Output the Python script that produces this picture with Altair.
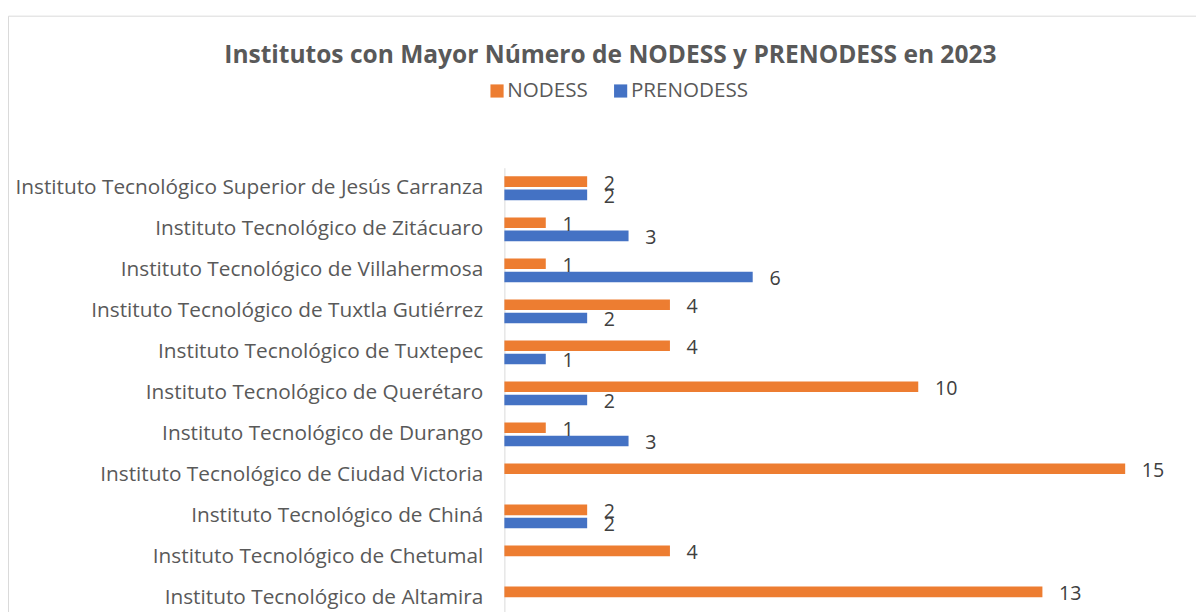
import altair as alt
import pandas as pd

categories = [
    "Instituto Tecnológico Superior de Jesús Carranza",
    "Instituto Tecnológico de Zitácuaro",
    "Instituto Tecnológico de Villahermosa",
    "Instituto Tecnológico de Tuxtla Gutiérrez",
    "Instituto Tecnológico de Tuxtepec",
    "Instituto Tecnológico de Querétaro",
    "Instituto Tecnológico de Durango",
    "Instituto Tecnológico de Ciudad Victoria",
    "Instituto Tecnológico de Chiná",
    "Instituto Tecnológico de Chetumal",
    "Instituto Tecnológico de Altamira",
]
nodess = [2, 1, 1, 4, 4, 10, 1, 15, 2, 4, 13]
prenodess = [2, 3, 6, 2, 1, 2, 3, 0, 2, 0, 0]
series = ["NODESS", "PRENODESS"]
colors = ["#ED7D31", "#4472C4"]

rows = []
for c, a, b in zip(categories, nodess, prenodess):
    rows.append({"inst": c, "serie": "NODESS", "valor": a})
    rows.append({"inst": c, "serie": "PRENODESS", "valor": b})
df = pd.DataFrame(rows)

FONT = "Open Sans"
PLOT_W = 675
PLOT_H = 447
BAND_RANGE = 460

y_enc = alt.Y("inst:N", sort=categories, title=None,
              scale=alt.Scale(range=[0, BAND_RANGE], paddingInner=0.42, paddingOuter=0.21),
              axis=alt.Axis(labelFontSize=21.2, labelColor="#595959", labelFont=FONT,
                            ticks=False, labelPadding=22, domainColor="#D9D9D9",
                            labelLimit=600))
x_enc = alt.X("valor:Q", title=None, scale=alt.Scale(domain=[0, 16], nice=False),
              axis=None)
yoff = alt.YOffset("serie:N", sort=series, scale=alt.Scale(paddingInner=0.2, paddingOuter=0))

base = alt.Chart(df).transform_filter("datum.valor > 0")

bars = base.mark_bar().encode(
    y=y_enc, x=x_enc, yOffset=yoff,
    color=alt.Color("serie:N", sort=series, title=None,
                    scale=alt.Scale(domain=series, range=colors),
                    legend=alt.Legend(orient="none", legendX=-18, legendY=-89,
                                      direction="horizontal", symbolType="square",
                                      symbolSize=180, labelFontSize=21, labelFont=FONT,
                                      labelColor="#595959", columnPadding=22,
                                      symbolStrokeWidth=0, labelOffset=0)),
)

labels = base.mark_text(align="left", baseline="middle", dx=17, dy=2,
                        fontSize=20, font=FONT, color="#404040").encode(
    y=y_enc, x=x_enc, yOffset=yoff, text="valor:Q",
)

frame = alt.Chart(pd.DataFrame({"k": [0]})).mark_rect(
    fill=None, stroke="#D9D9D9", strokeWidth=1
).encode(
    x=alt.value(-505.5), x2=alt.value(PLOT_W + 600),
    y=alt.value(-154.5), y2=alt.value(PLOT_H + 100),
)

chart = alt.layer(frame, bars, labels).properties(
    width=PLOT_W, height=PLOT_H,
    autosize=alt.AutoSizeParams(type="none"),
    padding={"left": 506, "top": 157, "right": 30, "bottom": 0},
    title=alt.Title("Institutos con Mayor Número de NODESS y PRENODESS en 2023",
                    fontSize=25, font=FONT, fontWeight="bold", color="#595959",
                    anchor="middle", frame="group", dx=-229.5, dy=53, offset=0),
).configure_view(stroke=None)

chart.save("out.html", embed_options={"renderer": "svg", "actions": False})
